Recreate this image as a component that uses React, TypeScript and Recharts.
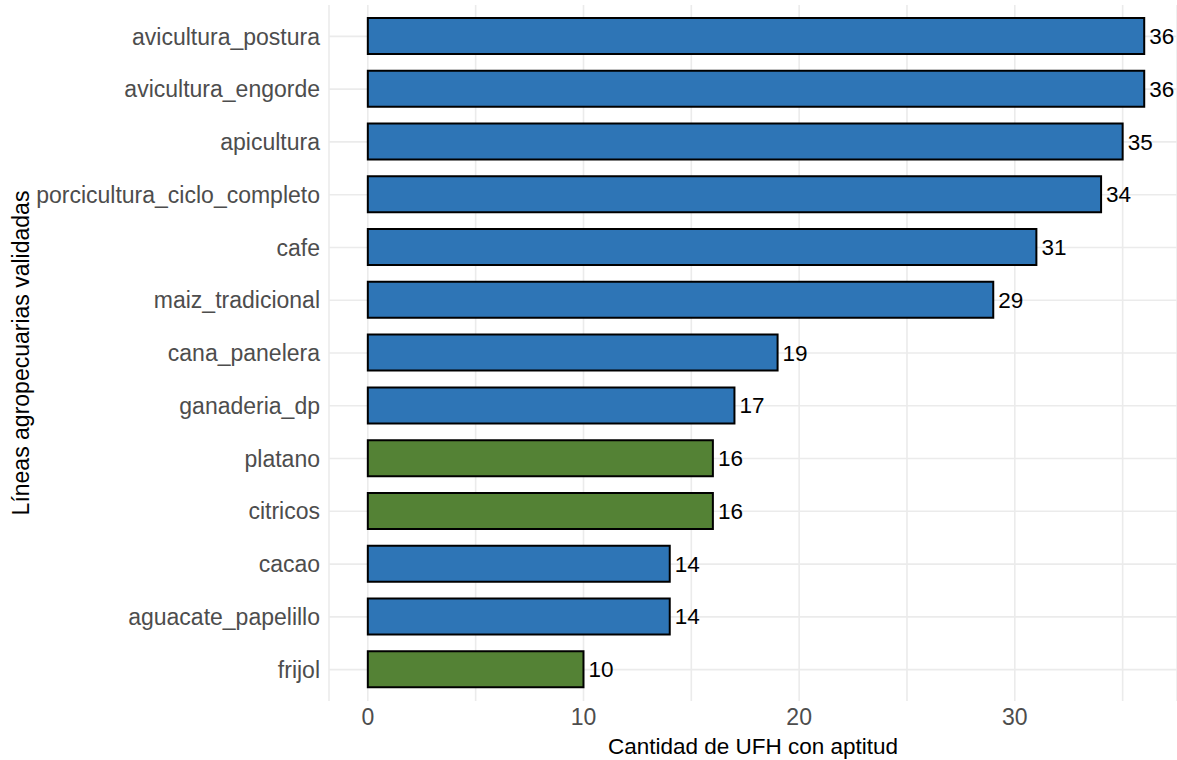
import { BarChart, Bar, XAxis, YAxis, CartesianGrid, Cell, LabelList } from 'recharts';

const categorias = [
  'avicultura_postura',
  'avicultura_engorde',
  'apicultura',
  'porcicultura_ciclo_completo',
  'cafe',
  'maiz_tradicional',
  'cana_panelera',
  'ganaderia_dp',
  'platano',
  'citricos',
  'cacao',
  'aguacate_papelillo',
  'frijol',
];
const cantidades = [36, 36, 35, 34, 31, 29, 19, 17, 16, 16, 14, 14, 10];
// lineas resaltadas en verde
const destacadas = ['platano', 'citricos', 'frijol'];
const ticksX = [0, 5, 10, 15, 20, 25, 30, 35];
const ticksXConTexto = [0, 10, 20, 30];

const AZUL = '#2E75B6';
const VERDE = '#548235';
const FUENTE = 'Liberation Sans, Arial, sans-serif';
const PAD_Y = 5;

const data = categorias.map((linea, i) => ({ linea, n: cantidades[i] }));

// solo lineas horizontales en el centro de cada categoria
const lineasHorizontales = (args: any) => {
  const sc = args?.yAxis?.scale;
  const f: any = typeof sc === 'function' ? sc : sc && typeof sc.map === 'function' ? (v: any) => sc.map(v) : null;
  if (f) {
    const bw = typeof sc.bandwidth === 'function' ? sc.bandwidth() : 0;
    const porNombre = categorias.map((c) => f(c) + bw / 2);
    if (porNombre.every((y) => Number.isFinite(y))) return porNombre;
    const porIndice = categorias.map((_, i) => f(i) + bw / 2);
    if (porIndice.every((y) => Number.isFinite(y))) return porIndice;
  }
  const off = args?.offset;
  if (!off) return [];
  const banda = (off.height - 2 * PAD_Y) / categorias.length;
  return categorias.map((_, i) => off.top + PAD_Y + (i + 0.5) * banda);
};

export default function App() {
  return (
    <div style={{ position: 'absolute', left: 0, top: 0, background: '#fff' }}>
      <BarChart
        width={1177}
        height={760}
        data={data}
        layout="vertical"
        margin={{ top: 5, right: 0, bottom: 0, left: 0 }}
        style={{ fontFamily: FUENTE }}
      >
        <CartesianGrid
          stroke="#EBEBEB"
          strokeWidth={1.6}
          horizontalCoordinatesGenerator={lineasHorizontales}
        />
        <XAxis
          type="number"
          domain={[-1.8, 37.52]}
          ticks={ticksX}
          allowDataOverflow
          tickFormatter={(v: number) => (ticksXConTexto.includes(v) ? String(v) : '')}
          axisLine={false}
          tickLine={false}
          tickSize={0}
          tickMargin={8}
          height={59}
          tick={{ fill: '#4D4D4D', fontSize: 23, fontFamily: FUENTE }}
          label={{
            value: 'Cantidad de UFH con aptitud',
            position: 'insideBottom',
            offset: 6,
            fill: '#000',
            fontSize: 22.5,
            fontFamily: FUENTE,
          }}
        />
        <YAxis
          type="category"
          dataKey="linea"
          width={329}
          axisLine={false}
          tickLine={false}
          tickSize={0}
          tickMargin={9}
          padding={{ top: PAD_Y, bottom: PAD_Y }}
          interval={0}
          tick={{ fill: '#4D4D4D', fontSize: 23, fontFamily: FUENTE }}
          label={{
            content: (props: any) => {
              const vb = props.viewBox || { x: 0, y: 0, height: 700 };
              const cx = 21;
              const cy = vb.y + vb.height / 2;
              return (
                <text
                  x={cx}
                  y={cy}
                  transform={`rotate(-90, ${cx}, ${cy})`}
                  textAnchor="middle"
                  dominantBaseline="central"
                  fill="#000"
                  fontSize={23}
                  fontFamily={FUENTE}
                >
                  Líneas agropecuarias validadas
                </text>
              );
            },
          }}
        />
        <Bar dataKey="n" barSize={36} stroke="#000" strokeWidth={2} isAnimationActive={false}>
          {data.map((d) => (
            <Cell key={d.linea} fill={destacadas.includes(d.linea) ? VERDE : AZUL} />
          ))}
          <LabelList
            dataKey="n"
            position="right"
            offset={5}
            fill="#000"
            fontSize={22.5}
            fontFamily={FUENTE}
          />
        </Bar>
      </BarChart>
    </div>
  );
}
